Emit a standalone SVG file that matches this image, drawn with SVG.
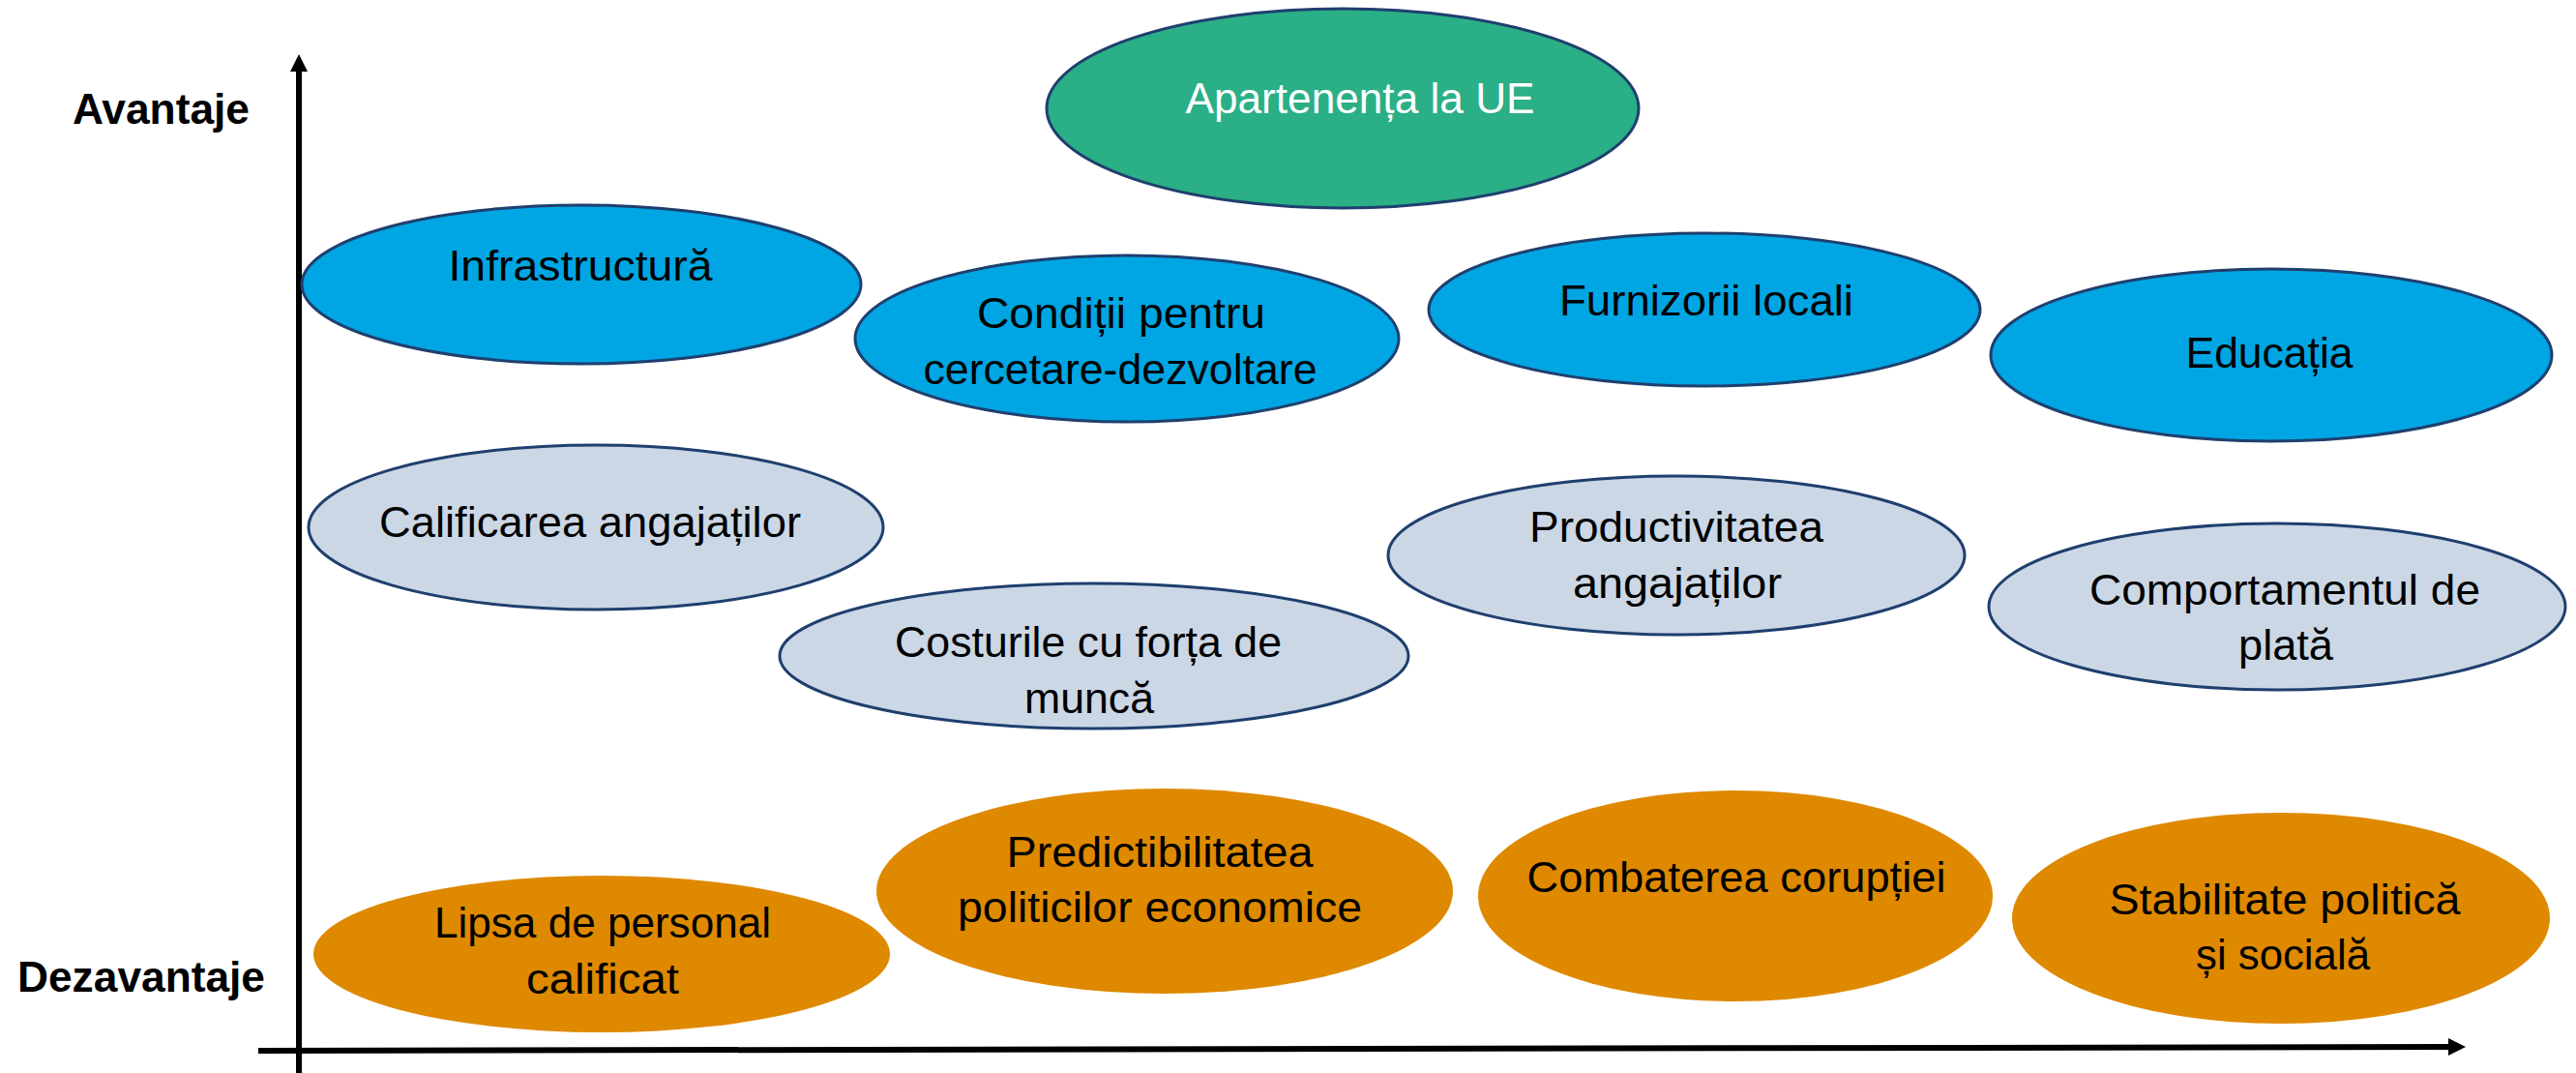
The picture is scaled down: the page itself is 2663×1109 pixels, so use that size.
<svg xmlns="http://www.w3.org/2000/svg" width="2663" height="1109" viewBox="0 0 2663 1109">
<defs>
<style>
.green{fill:#2AAF86;stroke:#1F3F6E;stroke-width:3}
.blue{fill:#00A6E3;stroke:#1F3F6E;stroke-width:3}
.grey{fill:#CBD7E5;stroke:#1F3F6E;stroke-width:3}
.orange{fill:#DE8900;stroke:none}
text{font-family:"Liberation Sans",Arial,sans-serif;font-size:44px;fill:#000;text-anchor:middle}
text.w{fill:#fff}
text.axis{font-weight:bold;text-anchor:start}
.ax{stroke:#000;stroke-width:6;fill:none}
</style>
<marker id="arr" viewBox="0 0 18 18" markerWidth="18" markerHeight="18" refX="0" refY="9" orient="auto" markerUnits="userSpaceOnUse">
<path d="M0,0 L18,9 L0,18 Z" fill="#000"/>
</marker>
</defs>
<rect width="2663" height="1109" fill="#fff"/>
<g id="connectors">
<line class="ax" x1="309" y1="1109" x2="309" y2="74" marker-end="url(#arr)"/>
<line class="ax" x1="267" y1="1086" x2="2531" y2="1082" marker-end="url(#arr)"/>
</g>
<g id="label-avantaje"><text class="axis" x="75" y="128" textLength="183" lengthAdjust="spacingAndGlyphs">Avantaje</text></g>
<g id="label-dezavantaje"><text class="axis" x="18" y="1025" textLength="256" lengthAdjust="spacingAndGlyphs">Dezavantaje</text></g>
<g id="n-apartenenta"><ellipse class="green" cx="1388" cy="112" rx="306" ry="103"/><text class="w" x="1406" y="117" textLength="361" lengthAdjust="spacingAndGlyphs">Apartenența la UE</text></g>
<g id="n-infrastructura"><ellipse class="blue" cx="601" cy="294" rx="289" ry="82"/><text x="600" y="290" textLength="273" lengthAdjust="spacingAndGlyphs">Infrastructură</text></g>
<g id="n-conditii"><ellipse class="blue" cx="1165" cy="350" rx="281" ry="86"/><text x="1159" y="339" textLength="298" lengthAdjust="spacingAndGlyphs">Condiții pentru</text><text x="1158" y="397" textLength="407" lengthAdjust="spacingAndGlyphs">cercetare-dezvoltare</text></g>
<g id="n-furnizorii"><ellipse class="blue" cx="1762" cy="320" rx="285" ry="79"/><text x="1764" y="326" textLength="304" lengthAdjust="spacingAndGlyphs">Furnizorii locali</text></g>
<g id="n-educatia"><ellipse class="blue" cx="2348" cy="367" rx="290" ry="89"/><text x="2346" y="380" textLength="173" lengthAdjust="spacingAndGlyphs">Educația</text></g>
<g id="n-calificarea"><ellipse class="grey" cx="616" cy="545" rx="297" ry="85"/><text x="610" y="555" textLength="436" lengthAdjust="spacingAndGlyphs">Calificarea angajaților</text></g>
<g id="n-costurile"><ellipse class="grey" cx="1131" cy="678" rx="325" ry="75"/><text x="1125" y="679" textLength="400" lengthAdjust="spacingAndGlyphs">Costurile cu forța de</text><text x="1126" y="737" textLength="134" lengthAdjust="spacingAndGlyphs">muncă</text></g>
<g id="n-productivitatea"><ellipse class="grey" cx="1733" cy="574" rx="298" ry="82"/><text x="1733" y="560" textLength="304" lengthAdjust="spacingAndGlyphs">Productivitatea</text><text x="1734" y="618" textLength="216" lengthAdjust="spacingAndGlyphs">angajaților</text></g>
<g id="n-comportamentul"><ellipse class="grey" cx="2354" cy="627" rx="298" ry="86"/><text x="2362" y="625" textLength="404" lengthAdjust="spacingAndGlyphs">Comportamentul de</text><text x="2363" y="682" textLength="98" lengthAdjust="spacingAndGlyphs">plată</text></g>
<g id="n-lipsa"><ellipse class="orange" cx="622" cy="986" rx="298" ry="81"/><text x="623" y="969" textLength="348" lengthAdjust="spacingAndGlyphs">Lipsa de personal</text><text x="623" y="1027" textLength="158" lengthAdjust="spacingAndGlyphs">calificat</text></g>
<g id="n-predictibilitatea"><ellipse class="orange" cx="1204" cy="921" rx="298" ry="106"/><text x="1199" y="896" textLength="317" lengthAdjust="spacingAndGlyphs">Predictibilitatea</text><text x="1199" y="953" textLength="418" lengthAdjust="spacingAndGlyphs">politicilor economice</text></g>
<g id="n-combaterea"><ellipse class="orange" cx="1794" cy="926" rx="266" ry="109"/><text x="1795" y="922" textLength="433" lengthAdjust="spacingAndGlyphs">Combaterea corupției</text></g>
<g id="n-stabilitate"><ellipse class="orange" cx="2358" cy="949" rx="278" ry="109"/><text x="2362" y="945" textLength="363" lengthAdjust="spacingAndGlyphs">Stabilitate politică</text><text x="2360" y="1002" textLength="180" lengthAdjust="spacingAndGlyphs">și socială</text></g>
</svg>
